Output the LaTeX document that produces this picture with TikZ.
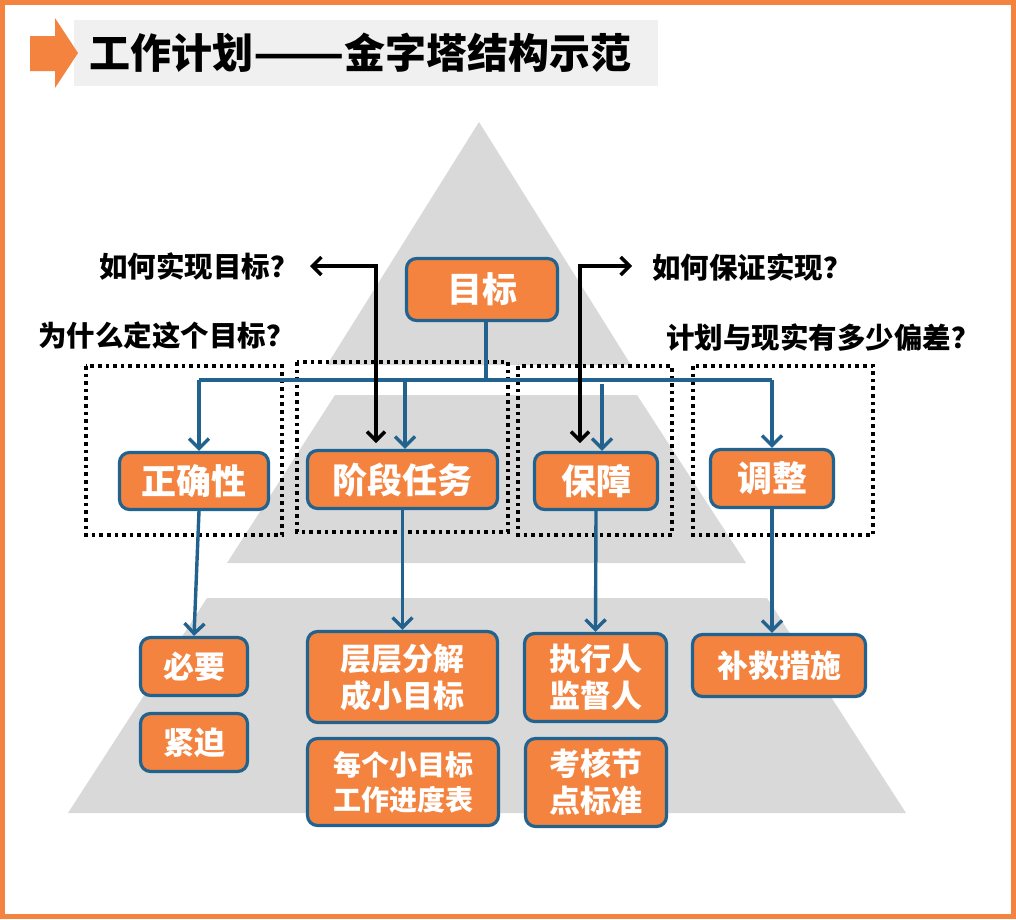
\documentclass[tikz,border=0pt]{standalone}
\usepackage{fontspec}
\newfontfamily\cjk{Noto Sans CJK SC}
\usetikzlibrary{arrows.meta}
\definecolor{orng}{HTML}{F3833F}
\definecolor{blu}{HTML}{21628F}
\definecolor{pyr}{HTML}{D9D9D9}
\definecolor{ttlbg}{HTML}{F0F0F0}
\tikzset{
 box/.style={draw=blu, line width=3.2pt, fill=orng, text=white, rounded corners=10pt, align=center, inner sep=0pt, font=\cjk\bfseries\fontsize{35}{38}\selectfont},
 boxsm/.style={box, font=\cjk\bfseries\fontsize{31}{37}\selectfont},
 boxxs/.style={box, font=\cjk\bfseries\fontsize{28}{35}\selectfont},
 ques/.style={anchor=west, inner sep=0pt, font=\cjk\bfseries\fontsize{28.5}{30}\selectfont},
 bl/.style={draw=blu, line width=3.4pt},
 blarr/.style={bl, -{Straight Barb[length=10pt,width=20pt]}},
 blk/.style={draw=black, line width=3.4pt, {Straight Barb[length=9pt,width=18pt]}-{Straight Barb[length=9pt,width=18pt]}},
 dots/.style={draw=black, line width=3.6pt, dash pattern=on 3.6pt off 4pt},
}
\begin{document}
\begin{tikzpicture}[x=1pt,y=-1pt]
\useasboundingbox (0,0) rectangle (1016,919);
\fill[white] (0,0) rectangle (1016,919);
% title
\fill[ttlbg] (74,20) rectangle (658,86);
\fill[orng] (30,36) -- (55,36) -- (55,18) -- (78,53) -- (55,88) -- (55,71) -- (30,71) -- cycle;
\node[anchor=west, inner sep=0pt, font=\cjk\bfseries\fontsize{41}{41}\selectfont] (title) at (89,53) {工作计划\scalebox{1.3}[1]{——}金字塔结构示范};
% pyramid
\fill[pyr] (479,122) -- (631,365) -- (327,365) -- cycle;
\fill[pyr] (335,395) -- (637,395) -- (746,563) -- (227,563) -- cycle;
\fill[pyr] (207,598) -- (767,598) -- (906,813) -- (68,813) -- cycle;
% dotted groups
\draw[dots] (86,366) rectangle (282,535);
\draw[dots] (297,362) rectangle (508,532);
\draw[dots] (518,366) rectangle (672,535);
\draw[dots] (693,366) rectangle (873,535);
% nodes
\node[box, minimum width=151pt, minimum height=62pt] (mb) at (482,289.5) {目标};
\node[box, minimum width=149pt, minimum height=57pt] (zq) at (194,481) {正确性};
\node[box, minimum width=190pt, minimum height=58pt] (jd) at (402.5,479.5) {阶段任务};
\node[box, minimum width=123pt, minimum height=57pt] (bz) at (596,481) {保障};
\node[box, minimum width=123pt, minimum height=58pt] (tz) at (772,478.5) {调整};
\node[boxsm, minimum width=107pt, minimum height=58pt] (by) at (194,666.5) {必要};
\node[boxsm, minimum width=107pt, minimum height=58pt] (jp) at (194,742.5) {紧迫};
\node[boxsm, minimum width=190pt, minimum height=91pt] (cc) at (402.5,677) {层层分解\\成小目标};
\node[boxxs, minimum width=191pt, minimum height=87pt] (mg) at (403,782) {每个小目标\\工作进度表};
\node[boxsm, minimum width=142pt, minimum height=88pt] (zx) at (595.5,677.5) {执行人\\监督人};
\node[boxsm, minimum width=141pt, minimum height=88pt] (kh) at (596,782.5) {考核节\\点标准};
\node[boxsm, minimum width=173pt, minimum height=62pt] (bj) at (779,665.5) {补救措施};
% questions
\node[ques] (q1) at (99,266) {如何实现目标？};
\node[ques] (q2) at (38,335) {为什么定这个目标？};
\node[ques] (q3) at (652,267) {如何保证实现？};
\node[ques] (q4) at (666,337) {计划与现实有多少偏差？};
% bus coordinates
\coordinate (top) at ([xshift=4pt]mb.south);
\coordinate (bM) at (486,380);
\coordinate (bL) at (199,380);
\coordinate (bR) at (772,380);
\coordinate (bJ) at (405,380);
\coordinate (bB) at (602,384);
\draw[bl] (top) -- (bM);
\draw[bl] (bL) -- (bR);
\draw[blarr] (bL) -- (bL |- zq.north);
\draw[blarr] (bJ) -- (bJ |- jd.north);
\draw[blarr] (bB) -- (bB |- bz.north);
\draw[blarr] (bR) -- (bR |- tz.north);
\draw[blarr] ([xshift=5pt]zq.south) -- (by.north);
\draw[blarr] (jd.south) -- (cc.north);
\draw[blarr] (bz.south) -- (zx.north);
\draw[blarr] (tz.south) -- (tz.south |- bj.north);
% black arrows
\coordinate (k1a) at (310,266);
\coordinate (k1) at (376,266);
\coordinate (k1b) at (376,443);
\coordinate (k2a) at (632,266);
\coordinate (k2) at (580,266);
\coordinate (k2b) at (580,443);
\draw[blk] (k1b) -- (k1) -- (k1a);
\draw[blk] (k2b) -- (k2) -- (k2a);
% frame
\draw[orng, line width=5pt] (2.5,2.5) rectangle (1013.5,916.5);
\end{tikzpicture}
\end{document}
